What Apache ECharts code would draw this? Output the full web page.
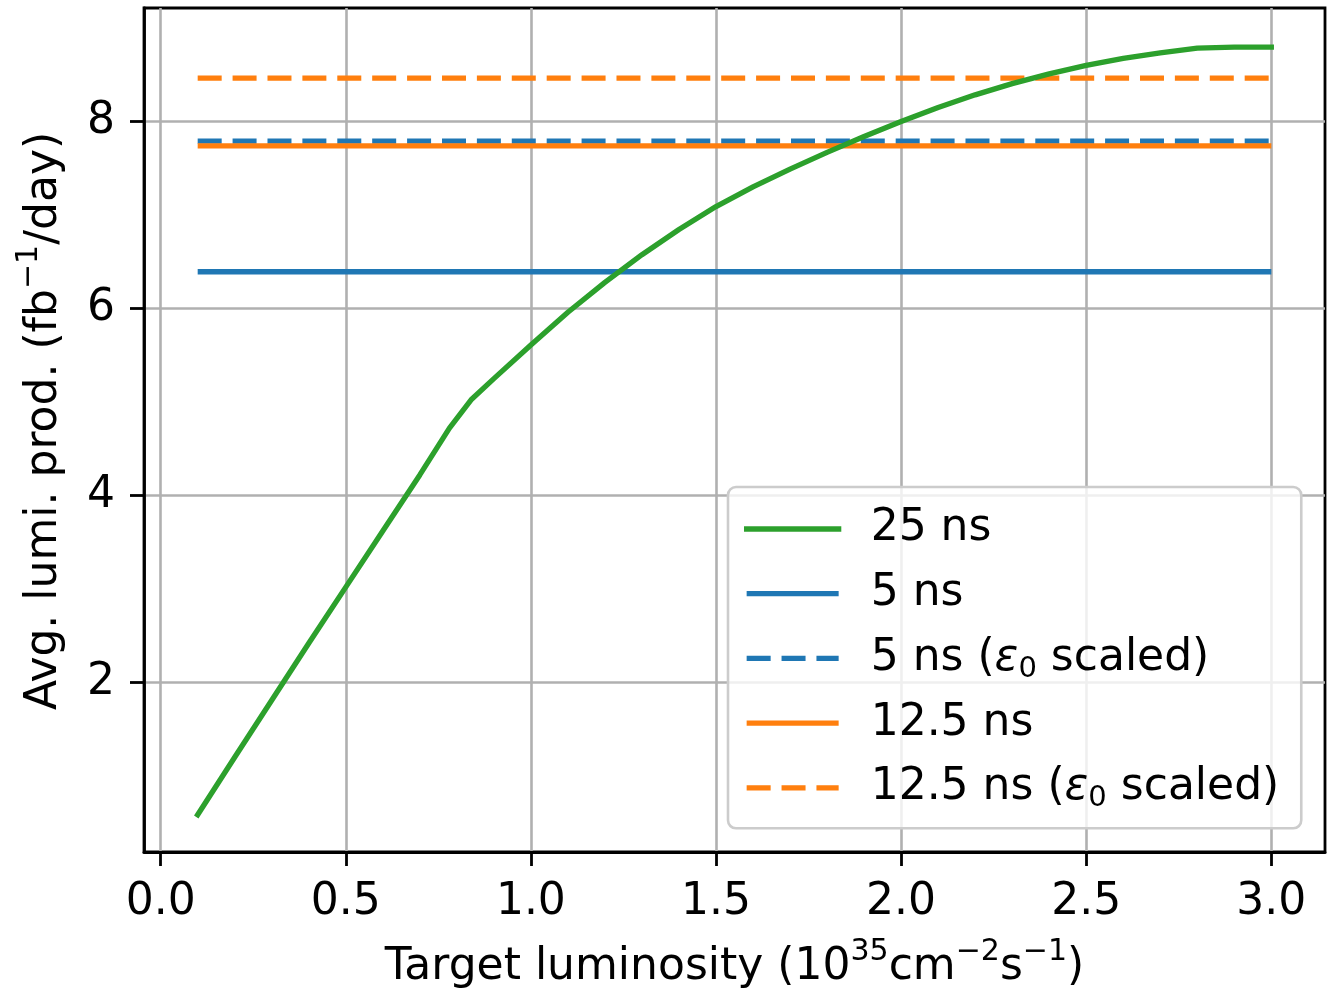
<!DOCTYPE html>
<html>
<head>
<meta charset="utf-8">
<script src="https://cdn.jsdelivr.net/npm/echarts@6/dist/echarts.min.js"></script>
<style>
html,body{margin:0;padding:0;background:#fff;}
#chart{width:1328px;height:990px;}
</style>
</head>
<body>
<div id="chart"></div>
<script>
// ---- data ----
const seriesNames = ['25 ns', '5 ns', '5 ns (ε0 scaled)', '12.5 ns', '12.5 ns (ε0 scaled)'];
const lumiX25 = [0.1,0.2,0.3,0.4,0.5,0.6,0.7,0.78,0.84,0.9,1.0,1.1,1.2,1.3,1.4,1.5,1.6,1.7,1.8,1.9,2.0,2.1,2.2,2.3,2.4,2.5,2.6,2.7,2.8,2.9,3.0];
const prod25   = [0.585,1.20,1.81,2.42,3.02,3.62,4.22,4.72,5.03,5.25,5.61,5.96,6.28,6.575,6.845,7.09,7.30,7.49,7.67,7.84,8.0,8.15,8.285,8.405,8.51,8.60,8.675,8.735,8.785,8.796,8.796];
const flatX = [0.1, 3.0];
const prod5 = 6.393;
const prod5Scaled = 7.79;
const prod125 = 7.74;
const prod125Scaled = 8.465;
const xTicks = [0.0,0.5,1.0,1.5,2.0,2.5,3.0];
const yTicks = [2,4,6,8];

const FONT = 'DejaVu Sans';
const FS = 44, FS_SMALL = 30;
const C_GREEN = '#2ca02c', C_BLUE = '#1f77b4', C_ORANGE = '#ff7f0e';
const DASH = [24, 10.9];
const LW = 5.3;

function flat(v){ return flatX.map(x => [x, v]); }

const supRich = {sup:{fontFamily:FONT, fontSize:FS_SMALL, color:'#000', verticalAlign:'top', padding:[-6,0,0,0]}};

const chart = echarts.init(document.getElementById('chart'), null, {renderer:'canvas'});
const option = {
  animation:false,
  backgroundColor:'#fff',
  textStyle:{fontFamily:FONT},
  grid:{left:144, top:8, right:3, bottom:138, show:true, borderColor:'#000', borderWidth:2.8, backgroundColor:'transparent', outerBoundsMode:'none'},
  xAxis:{
    type:'value', min:-0.045, max:3.145,
    axisLine:{show:true, onZero:false, lineStyle:{color:'#000', width:2.8}},
    axisTick:{show:true, length:14, lineStyle:{color:'#000', width:2.8}, customValues:xTicks},
    axisLabel:{fontFamily:FONT, fontSize:FS, color:'#000', margin:29, customValues:xTicks, formatter:v=>Number(v).toFixed(1)},
    splitLine:{show:true, lineStyle:{color:'#b0b0b0', width:2.6}},
    name:'Target luminosity (10{sup|35}cm{sup|−2}s{sup|−1})',
    nameLocation:'middle', nameGap:91,
    nameTextStyle:{fontFamily:FONT, fontSize:FS, color:'#000', lineHeight:50, rich:supRich}
  },
  yAxis:{
    type:'value', min:0.187, max:9.214,
    axisLine:{show:true, onZero:false, lineStyle:{color:'#000', width:2.8}},
    axisTick:{show:true, length:14, lineStyle:{color:'#000', width:2.8}, customValues:yTicks},
    axisLabel:{fontFamily:FONT, fontSize:FS, color:'#000', margin:29, customValues:yTicks, formatter:v=>String(Math.round(v))},
    splitLine:{show:true, lineStyle:{color:'#b0b0b0', width:2.6}},
    name:'Avg. lumi. prod. (fb{sup|−1}/day)',
    nameLocation:'middle', nameGap:74, nameRotate:90,
    nameTextStyle:{fontFamily:FONT, fontSize:FS, color:'#000', lineHeight:50, padding:[0,0,0,18], rich:supRich}
  },
  legend:{
    orient:'vertical', left:728, top:487,
    data:seriesNames,
    itemWidth:92, itemHeight:44, itemGap:17.2,
    padding:[20,22,15,16],
    backgroundColor:'rgba(255,255,255,0.8)', borderColor:'#cccccc', borderWidth:2.6, borderRadius:8,
    itemStyle:{opacity:0, borderWidth:0},
    lineStyle:{width:LW},
    formatter:function(name){
      return name.indexOf('ε0') >= 0 ? name.replace('ε0', '{eps|ε}{sub|0}') : name + '{sub| }';
    },
    textStyle:{fontFamily:FONT, fontSize:FS, color:'#000', lineHeight:44, padding:[0,0,0,27],
      rich:{eps:{fontFamily:FONT, fontSize:FS, fontStyle:'italic', color:'#000', lineHeight:44},
            sub:{fontFamily:FONT, fontSize:29, color:'#000', verticalAlign:'bottom', height:22}}}
  },
  series:[
    {name:seriesNames[0], type:'line', data:lumiX25.map((x,i)=>[x, prod25[i]]), showSymbol:false, symbol:'none', z:5,
     lineStyle:{color:C_GREEN, width:LW, cap:'square'}, itemStyle:{color:C_GREEN}},
    {name:seriesNames[1], type:'line', data:flat(prod5), showSymbol:false, symbol:'none', z:2,
     lineStyle:{color:C_BLUE, width:LW}, itemStyle:{color:C_BLUE}},
    {name:seriesNames[2], type:'line', data:flat(prod5Scaled), showSymbol:false, symbol:'none', z:2,
     lineStyle:{color:C_BLUE, width:LW, type:DASH}, itemStyle:{color:C_BLUE}},
    {name:seriesNames[3], type:'line', data:flat(prod125), showSymbol:false, symbol:'none', z:3,
     lineStyle:{color:C_ORANGE, width:LW}, itemStyle:{color:C_ORANGE}},
    {name:seriesNames[4], type:'line', data:flat(prod125Scaled), showSymbol:false, symbol:'none', z:3,
     lineStyle:{color:C_ORANGE, width:LW, type:DASH}, itemStyle:{color:C_ORANGE}}
  ]
};
chart.setOption(option);
</script>
</body>
</html>
